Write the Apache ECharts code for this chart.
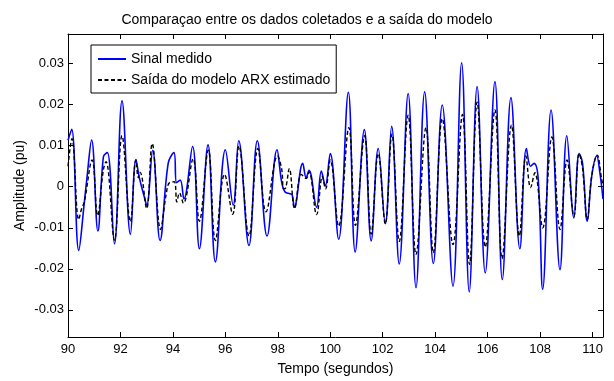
<!DOCTYPE html>
<html>
<head>
<meta charset="utf-8">
<script src="https://cdn.jsdelivr.net/npm/echarts@6/dist/echarts.min.js"></script>
<style>
  html, body { margin: 0; padding: 0; background: #fff; }
  #chart { width: 614px; height: 381px; }
</style>
</head>
<body>
<div id="chart"></div>
<script>
// Measured signal: time (s) and amplitude (pu) at peaks, troughs and shoulders
const measuredT = [90.00, 90.14, 90.41, 90.62, 90.72, 90.90, 91.14, 91.35, 91.50, 91.77,
  92.06, 92.38, 92.59, 92.72, 92.91, 93.00, 93.23, 93.51, 93.82, 94.04,
  94.14, 94.28, 94.42, 94.75, 95.01, 95.34, 95.62, 96.00, 96.30, 96.51,
  96.90, 97.22, 97.59, 97.97, 98.15, 98.28, 98.47, 98.55, 98.63, 98.95,
  99.08, 99.19, 99.48, 99.66, 99.81, 100.00, 100.32, 100.69, 100.95, 101.30,
  101.56, 101.83, 102.10, 102.34, 102.63, 102.97, 103.27, 103.60, 103.93, 104.27,
  104.68, 105.01, 105.30, 105.60, 105.91, 106.28, 106.56, 106.89, 107.23, 107.48,
  107.64, 107.77, 107.93, 108.10, 108.42, 108.76, 109.02, 109.29, 109.49, 109.62,
  109.80, 109.97, 110.16, 110.28, 110.40];
const measuredV = [0.0113, 0.0140, -0.0155, -0.0040, 0.0020, 0.0114, -0.0108, 0.0073, 0.0083, -0.0139,
  0.0209, -0.0116, 0.0066, 0.0022, -0.0025, -0.0045, 0.0089, -0.0131, 0.0057, 0.0083,
  0.0010, 0.0016, -0.0030, 0.0098, -0.0151, 0.0102, -0.0183, 0.0090, -0.0045, 0.0112,
  -0.0143, 0.0112, -0.0120, 0.0090, 0.0010, -0.0013, -0.0017, -0.0020, -0.0050, 0.0057,
  0.0022, 0.0040, -0.0050, 0.0038, 0.0002, 0.0081, -0.0128, 0.0230, -0.0159, 0.0139,
  -0.0132, 0.0093, -0.0090, 0.0147, -0.0188, 0.0227, -0.0246, 0.0231, -0.0187, 0.0199,
  -0.0242, 0.0302, -0.0256, 0.0244, -0.0210, 0.0256, -0.0226, 0.0217, -0.0151, 0.0093,
  0.0050, 0.0057, 0.0018, -0.0250, 0.0187, -0.0202, 0.0124, -0.0076, 0.0081, 0.0057,
  -0.0084, 0.0026, 0.0075, 0.0035, -0.0030];

// Output of the estimated ARX model
const modelT = [90.00, 90.15, 90.41, 90.52, 90.62, 90.92, 91.13, 91.35, 91.45, 91.77,
  92.06, 92.38, 92.59, 92.68, 92.75, 93.00, 93.21, 93.53, 93.74, 93.87,
  94.05, 94.15, 94.25, 94.40, 94.77, 95.01, 95.35, 95.62, 95.97, 96.28,
  96.52, 96.90, 97.24, 97.55, 97.99, 98.15, 98.22, 98.30, 98.44, 98.64,
  98.90, 99.08, 99.19, 99.48, 99.70, 99.82, 100.00, 100.32, 100.71, 100.96,
  101.31, 101.56, 101.83, 102.10, 102.35, 102.63, 102.97, 103.27, 103.65, 103.93,
  104.27, 104.68, 105.04, 105.31, 105.60, 105.91, 106.28, 106.55, 106.91, 107.21,
  107.46, 107.64, 107.80, 108.10, 108.45, 108.76, 109.03, 109.29, 109.49, 109.62,
  109.80, 109.97, 110.18, 110.35, 110.40];
const modelV = [0.0050, 0.0117, -0.0080, -0.0053, -0.0037, 0.0065, -0.0070, 0.0042, 0.0061, -0.0130,
  0.0124, -0.0085, 0.0065, 0.0022, 0.0035, -0.0053, 0.0105, -0.0104, -0.0020, 0.0010,
  0.0012, -0.0037, -0.0015, -0.0040, 0.0068, -0.0084, 0.0089, -0.0131, 0.0030, -0.0067,
  0.0099, -0.0120, 0.0093, -0.0061, 0.0075, 0.0042, -0.0005, -0.0003, 0.0044, -0.0053,
  0.0030, 0.0020, 0.0036, -0.0068, 0.0025, -0.0005, 0.0065, -0.0096, 0.0144, -0.0094,
  0.0124, -0.0115, 0.0081, -0.0090, 0.0128, -0.0133, 0.0174, -0.0165, 0.0144, -0.0161,
  0.0166, -0.0141, 0.0176, -0.0189, 0.0206, -0.0147, 0.0187, -0.0175, 0.0150, -0.0120,
  0.0075, -0.0002, 0.0034, -0.0100, 0.0121, -0.0104, 0.0065, -0.0072, 0.0081, 0.0045,
  -0.0080, 0.0026, 0.0077, 0.0018, 0.0005];

const xTicks = [90, 92, 94, 96, 98, 100, 102, 104, 106, 108, 110];
const yTicks = [-0.03, -0.02, -0.01, 0, 0.01, 0.02, 0.03];

const zip = (t, v) => t.map((x, i) => [x, v[i]]);

const FONT = 'Liberation Sans, Arial, sans-serif';
const axisLineStyle = { color: '#000', width: 1 };

const chart = echarts.init(document.getElementById('chart'), null, { renderer: 'canvas' });

chart.setOption({
  animation: false,
  backgroundColor: '#fff',
  title: {
    text: 'Comparaçao entre os dados coletados e a saída do modelo',
    left: 'center',
    top: 8,
    textStyle: { fontFamily: FONT, fontSize: 14, fontWeight: 'normal', color: '#000' }
  },
  legend: {
    orient: 'vertical',
    left: 91,
    top: 45,
    padding: [7, 6, 6, 6],
    itemWidth: 28,
    itemHeight: 14,
    itemGap: 7,
    borderColor: '#000',
    borderWidth: 1,
    backgroundColor: '#fff',
    itemStyle: { opacity: 0 },
    textStyle: { fontFamily: FONT, fontSize: 14, color: '#000' },
    data: ['Sinal medido', 'Saída do modelo ARX estimado']
  },
  grid: { left: 68, right: 11, top: 34, bottom: 35 },
  xAxis: [{
    type: 'value',
    min: 90,
    max: 110.4,
    name: 'Tempo (segundos)',
    nameLocation: 'middle',
    nameGap: 25,
    nameTextStyle: { fontFamily: FONT, fontSize: 14, color: '#000' },
    axisLine: { onZero: false, lineStyle: axisLineStyle },
    axisTick: { inside: true, length: 5, lineStyle: axisLineStyle, customValues: xTicks },
    axisLabel: { fontFamily: FONT, fontSize: 13, color: '#000', margin: 6, customValues: xTicks },
    splitLine: { show: false }
  }, {
    type: 'value',
    position: 'top',
    min: 90,
    max: 110.4,
    axisLine: { show: true, onZero: false, lineStyle: axisLineStyle },
    axisTick: { show: true, inside: true, length: 5, lineStyle: axisLineStyle, customValues: xTicks },
    axisLabel: { show: false },
    splitLine: { show: false }
  }],
  yAxis: [{
    type: 'value',
    min: -0.0366,
    max: 0.0372,
    name: 'Amplitude (pu)',
    nameLocation: 'middle',
    nameGap: 41,
    nameMoveOverlap: false,
    nameTextStyle: { fontFamily: FONT, fontSize: 14, color: '#000' },
    axisLine: { onZero: false, lineStyle: axisLineStyle },
    axisTick: { inside: true, length: 5, lineStyle: axisLineStyle, customValues: yTicks },
    axisLabel: {
      fontFamily: FONT, fontSize: 13, color: '#000', margin: 4, customValues: yTicks,
      formatter: v => (Math.abs(v) < 1e-9 ? '0' : v.toFixed(2))
    },
    splitLine: { show: false }
  }, {
    type: 'value',
    position: 'right',
    min: -0.0366,
    max: 0.0372,
    axisLine: { show: true, onZero: false, lineStyle: axisLineStyle },
    axisTick: { show: true, inside: true, length: 5, lineStyle: axisLineStyle, customValues: yTicks },
    axisLabel: { show: false },
    splitLine: { show: false }
  }],
  series: [{
    name: 'Sinal medido',
    type: 'line',
    xAxisIndex: 0,
    yAxisIndex: 0,
    data: zip(measuredT, measuredV),
    symbol: 'none',
    smooth: 0.4,
    lineStyle: { color: '#0000ff', width: 1.6 },
    itemStyle: { color: '#0000ff' },
    z: 2
  }, {
    name: 'Saída do modelo ARX estimado',
    type: 'line',
    xAxisIndex: 0,
    yAxisIndex: 0,
    data: zip(modelT, modelV),
    symbol: 'none',
    smooth: 0.4,
    lineStyle: { color: '#000', width: 1.4, type: [4, 2.5] },
    itemStyle: { color: '#000' },
    z: 3
  }]
});
</script>
</body>
</html>
